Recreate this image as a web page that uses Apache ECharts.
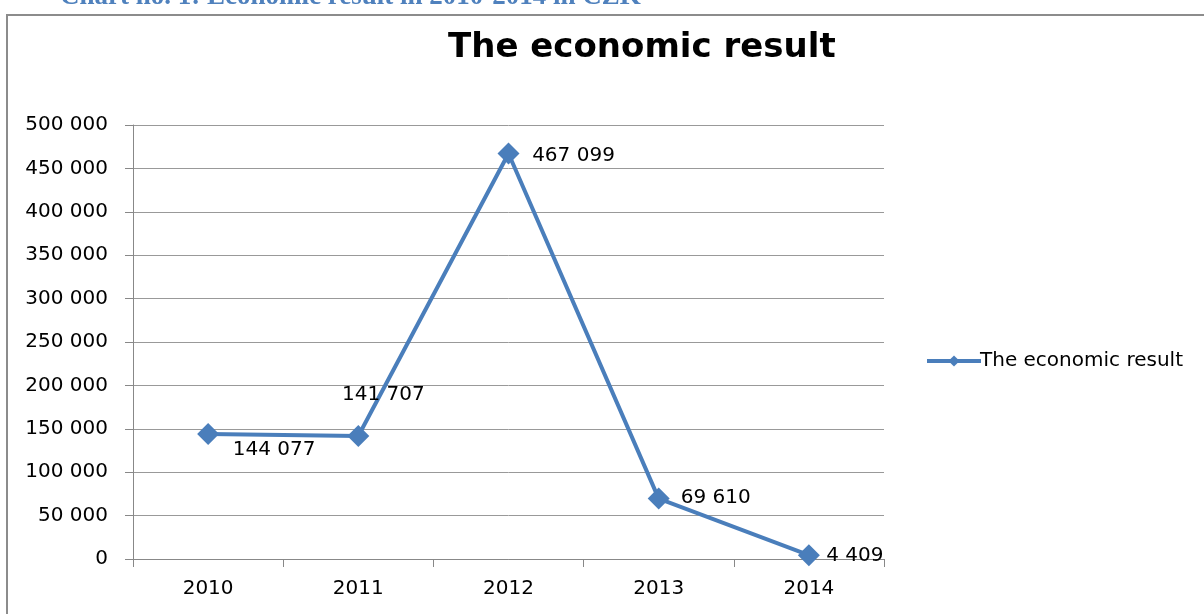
<!DOCTYPE html>
<html>
<head>
<meta charset="utf-8">
<script src="https://cdn.jsdelivr.net/npm/echarts@6/dist/echarts.min.js"></script>
<style>
    html, body { margin: 0; padding: 0; background: #fff; }
    #chart { width: 1204px; height: 614px; }
</style>
</head>
<body>
<div id="chart"></div>
<script>
const years = ['2010', '2011', '2012', '2013', '2014'];
const economicResult = [144077, 141707, 467099, 69610, 4409];
const seriesName = 'The economic result';
const captionText = 'Chart no. 1: Economic result in 2010-2014 in CZK';

// where each value label sits relative to its point
const labelOffsets = [[66, 16], [25, -41], [65, 2], [57, -1], [46, 1]];

const fontFamily = '"DejaVu Sans", sans-serif';
const lineColor = '#4A7EBB';

function fmt(v) {
    return String(v).replace(/\B(?=(\d{3})+(?!\d))/g, ' ');
}

document.addEventListener('DOMContentLoaded', () => {
    var chartDom = document.getElementById('chart');
    var myChart = echarts.init(chartDom);
    var option;
    option = {
        animation: false,
        backgroundColor: '#fff',
        title: [
            {
                text: seriesName,
                left: 443,
                top: 26,
                textStyle: { fontFamily: fontFamily, fontSize: 34, fontWeight: 'bold', color: '#000' }
            },
            {
                text: captionText,
                left: 55,
                top: -21,
                textStyle: { fontFamily: '"Liberation Serif", serif', fontSize: 27, fontWeight: 'bold', color: '#4F81BD' }
            }
        ],
        graphic: [
            {
                type: 'rect',
                shape: { x: 7, y: 15, width: 1210, height: 620 },
                style: { fill: 'none', stroke: '#8c8c8c', lineWidth: 2 }
            }
        ],
        legend: {
            left: 920,
            top: 346,
            itemWidth: 54,
            itemHeight: 14,
            data: [seriesName],
            lineStyle: { width: 4 },
            textStyle: { fontFamily: fontFamily, fontSize: 20, color: '#000', padding: [0, 0, 0, -6] }
        },
        grid: {
            left: 133,
            right: 320,
            top: 125,
            bottom: 55
        },
        xAxis: {
            type: 'category',
            data: years,
            boundaryGap: true,
            axisLine: { lineStyle: { color: '#888', width: 1 } },
            axisTick: { show: true, length: 8, alignWithLabel: false, lineStyle: { color: '#888' } },
            axisLabel: { margin: 20, fontFamily: fontFamily, fontSize: 20, color: '#000' }
        },
        yAxis: {
            type: 'value',
            min: 0,
            max: 500000,
            interval: 50000,
            axisLine: { show: true, lineStyle: { color: '#888', width: 1 } },
            axisTick: { show: true, length: 8, lineStyle: { color: '#888' } },
            splitLine: { lineStyle: { color: '#999', width: 1 } },
            axisLabel: {
                margin: 25,
                fontFamily: fontFamily,
                fontSize: 20,
                color: '#000',
                formatter: fmt
            }
        },
        series: [
            {
                name: seriesName,
                type: 'line',
                symbol: 'diamond',
                symbolSize: [22, 22],
                color: lineColor,
                lineStyle: { color: lineColor, width: 4 },
                itemStyle: { color: lineColor },
                data: economicResult.map((v, i) => ({
                    value: v,
                    label: { offset: labelOffsets[i] }
                })),
                label: {
                    show: true,
                    position: 'inside',
                    align: 'center',
                    verticalAlign: 'middle',
                    fontFamily: fontFamily,
                    fontSize: 20,
                    color: '#000',
                    formatter: p => fmt(p.value)
                }
            }
        ]
    };
    option && myChart.setOption(option);
});
</script>
</body>
</html>
